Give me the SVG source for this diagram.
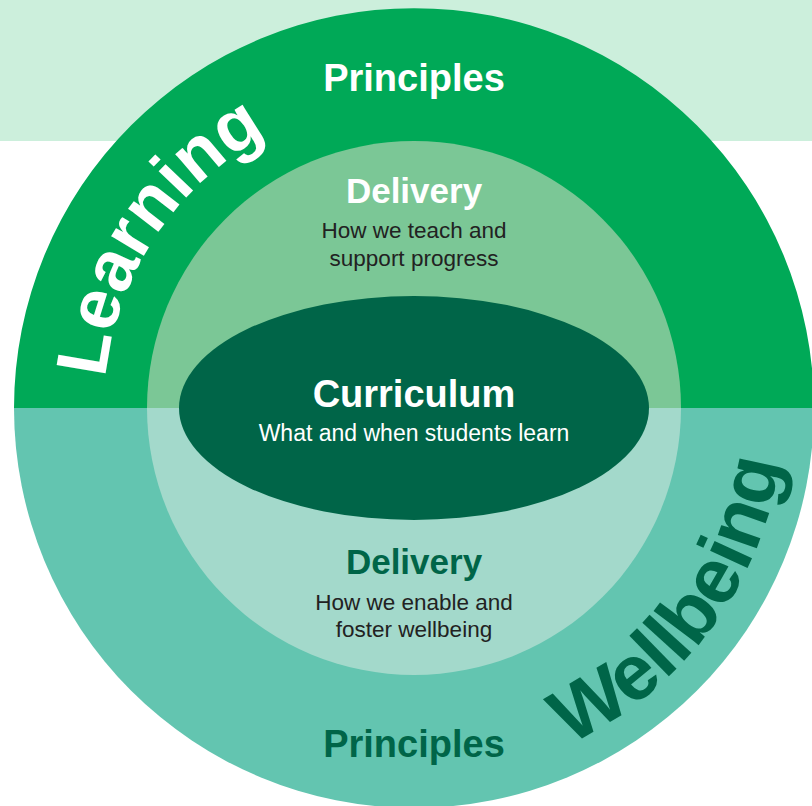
<svg xmlns="http://www.w3.org/2000/svg" xmlns:xlink="http://www.w3.org/1999/xlink" width="812" height="806" viewBox="0 0 812 806">
<style>
.h{font-family:"Liberation Sans",Arial,sans-serif;font-weight:bold;text-anchor:middle}
.b{font-family:"Liberation Sans",Arial,sans-serif;text-anchor:middle;fill:#222222}
.w{fill:#ffffff}
.dg{fill:#006548}
.arc{font-family:"Liberation Sans",Arial,sans-serif;font-weight:bold}
</style>
<defs>
<path id="learnPath" d="M 104 408 A 310 310 0 0 1 414 98"/>
<path id="wellPath" d="M 414 778 A 370 370 0 0 0 784 408"/>
</defs>
<rect x="0" y="0" width="812" height="141" fill="#ccefdc"/>
<g id="outer-ring">
<path d="M 14 408 A 400 400 0 0 1 814 408 Z" fill="#00a957"/>
<path d="M 14 408 A 400 400 0 0 0 814 408 Z" fill="#63c5b0"/>
</g>
<g id="delivery-ring">
<path d="M 147 408 A 267 267 0 0 1 681 408 Z" fill="#7bc796"/>
<path d="M 147 408 A 267 267 0 0 0 681 408 Z" fill="#a3d9cb"/>
</g>
<g id="curriculum">
<ellipse cx="414" cy="408" rx="235" ry="112" fill="#006548"/>
<text class="h w" x="414" y="407" font-size="38">Curriculum</text>
<text class="b w" x="414" y="441" font-size="23">What and when students learn</text>
</g>
<g id="learning-principles">
<text class="h w" x="414" y="91" font-size="38">Principles</text>
<text class="arc w" font-size="72"><textPath xlink:href="#learnPath" href="#learnPath" startOffset="30">Learning</textPath></text>
</g>
<g id="learning-delivery">
<text class="h w" x="414" y="203" font-size="35">Delivery</text>
<text class="b" x="414" y="238" font-size="22.5">How we teach and</text>
<text class="b" x="414" y="266" font-size="22.5">support progress</text>
</g>
<g id="wellbeing-delivery">
<text class="h dg" x="414" y="574" font-size="35">Delivery</text>
<text class="b" x="414" y="610" font-size="22.5">How we enable and</text>
<text class="b" x="414" y="637" font-size="22.5">foster wellbeing</text>
</g>
<g id="wellbeing-principles">
<text class="h dg" x="414" y="757" font-size="38">Principles</text>
<text class="arc dg" font-size="78"><textPath xlink:href="#wellPath" href="#wellPath" startOffset="160">Wellbeing</textPath></text>
</g>
<g id="connectors"/>
</svg>
